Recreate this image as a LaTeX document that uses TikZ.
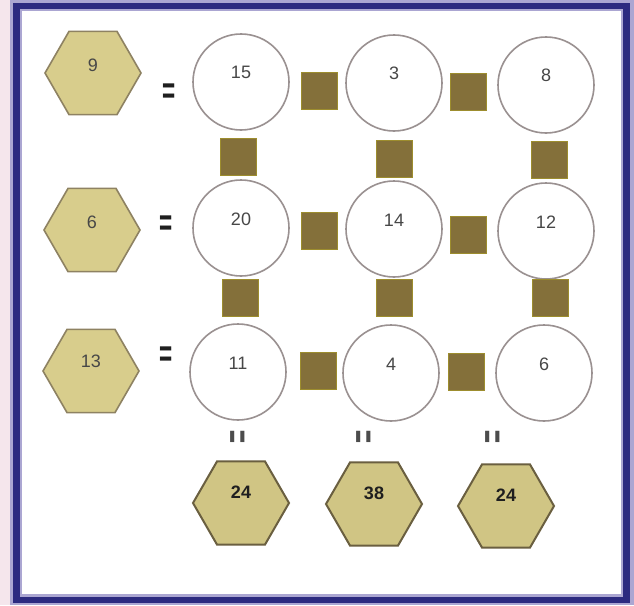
\documentclass[tikz,border=0pt]{standalone}
\usepackage{fontspec}
\setmainfont{Liberation Sans}
\usetikzlibrary{shapes.geometric}
\definecolor{navy}{HTML}{2C2A80}
\definecolor{lav}{HTML}{ABA6D2}
\definecolor{pinkbg}{HTML}{F5E6EC}
\definecolor{hexfill}{HTML}{D8CD8C}
\definecolor{hexline}{HTML}{8E8262}
\definecolor{hexfillb}{HTML}{D0C584}
\definecolor{hexlineb}{HTML}{6A5F40}
\definecolor{sqfill}{HTML}{84703A}
\definecolor{ringline}{HTML}{9A9191}
\tikzset{
  hexbox/.style={regular polygon, regular polygon sides=6, minimum size=96pt,
    inner sep=0pt, fill=hexfill, draw=hexline, line width=1.6pt},
  hexboxb/.style={hexbox, fill=hexfillb, draw=hexlineb, line width=2pt},
  ring/.style={circle, minimum size=96pt, inner sep=0pt, fill=white,
    draw=ringline, line width=1.6pt},
  opbox/.style={rectangle, minimum width=36pt, minimum height=37pt, inner sep=0pt,
    fill=sqfill, draw=sqfill!80!yellow, line width=0.6pt},
  num/.style={font=\fontsize{18}{18}\selectfont, text=black!72, inner sep=0pt},
  numb/.style={font=\fontsize{18}{18}\selectfont\bfseries, text=black!88, inner sep=0pt},
  eqs/.style={font=\fontsize{18}{18}\selectfont\bfseries, text=black!88, inner sep=0pt},
  eqv/.style={eqs, text=black!70, rotate=90},
}
\newcommand{\bigeq}{\scalebox{1.25}[2.1]{=}}
\begin{document}
\begin{tikzpicture}[x=1pt,y=-1pt]
\useasboundingbox (0,0) rectangle (634,605);
% page background and frame
\fill[pinkbg] (0,0) rectangle (634,605);
\fill[lav] (10,0) rectangle (634,605);
\fill[navy] (13,3) rectangle (630,603);
\fill[lav] (20,9) rectangle (623,597);
\fill[white] (22,11) rectangle (621,594);

% left hexagons
\node[hexbox] (h1) at (93,73) {};
\node[hexbox] (h2) at (92,230) {};
\node[hexbox] (h3) at (91,371) {};
\node[num] (t1) at ([yshift=8pt]h1.center) {9};
\node[num] (t2) at ([yshift=8pt]h2.center) {6};
\node[num] (t3) at ([yshift=10pt]h3.center) {13};

% row equals
\node[eqs] (e1) at (169,94) {\bigeq};
\node[eqs] (e2) at (166,226) {\bigeq};
\node[eqs] (e3) at (166,357) {\bigeq};

% circles
\node[ring] (c11) at (241,82) {};
\node[ring] (c12) at (394,83) {};
\node[ring] (c13) at (546,85) {};
\node[ring] (c21) at (241,228) {};
\node[ring] (c22) at (394,229) {};
\node[ring] (c23) at (546,231) {};
\node[ring] (c31) at (238,372) {};
\node[ring] (c32) at (391,373) {};
\node[ring] (c33) at (544,373) {};
\node[num] (n11) at ([yshift=10pt]c11.center) {15};
\node[num] (n12) at ([yshift=10pt]c12.center) {3};
\node[num] (n13) at ([yshift=10pt]c13.center) {8};
\node[num] (n21) at ([yshift=9pt]c21.center) {20};
\node[num] (n22) at ([yshift=9pt]c22.center) {14};
\node[num] (n23) at ([yshift=9pt]c23.center) {12};
\node[num] (n31) at ([yshift=9pt]c31.center) {11};
\node[num] (n32) at ([yshift=9pt]c32.center) {4};
\node[num] (n33) at ([yshift=9pt]c33.center) {6};

% horizontal operator squares
\node[opbox] (s11) at (319,91) {};
\node[opbox] (s12) at (468,92) {};
\node[opbox] (s21) at (319,231) {};
\node[opbox] (s22) at (468,235) {};
\node[opbox] (s31) at (318,371) {};
\node[opbox] (s32) at (466,372) {};
% vertical operator squares
\node[opbox] (v11) at (238,157) {};
\node[opbox] (v12) at (394,159) {};
\node[opbox] (v13) at (549,160) {};
\node[opbox] (v21) at (240,298) {};
\node[opbox] (v22) at (394,298) {};
\node[opbox] (v23) at (550,298) {};

% column equals
\node[eqv] (q1) at (240,437) {\bigeq};
\node[eqv] (q2) at (366,437) {\bigeq};
\node[eqv] (q3) at (495,437) {\bigeq};

% bottom hexagons
\node[hexboxb] (b1) at (241,503) {};
\node[hexboxb] (b2) at (374,504) {};
\node[hexboxb] (b3) at (506,506) {};
\node[numb] (u1) at ([yshift=11pt]b1.center) {24};
\node[numb] (u2) at ([yshift=11pt]b2.center) {38};
\node[numb] (u3) at ([yshift=11pt]b3.center) {24};
\end{tikzpicture}
\end{document}
